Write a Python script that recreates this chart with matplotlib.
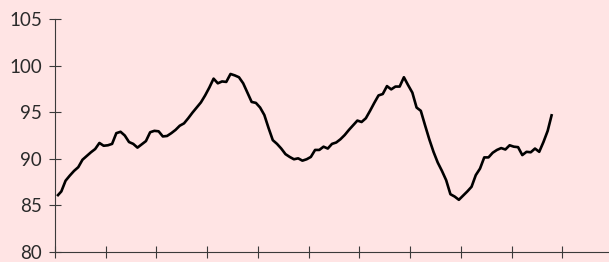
import matplotlib.pyplot as plt
import numpy as np

plt.rcParams['font.family'] = ['Lato', 'DejaVu Sans']
plt.rcParams['axes.edgecolor'] = '#3a3a3a'
plt.rcParams['xtick.color'] = '#3a3a3a'
plt.rcParams['ytick.color'] = '#3a3a3a'

bg = '#FFE4E4'

# monthly values, one tick per 12 months
values = [
  86.0, 86.5, 87.65, 88.2, 88.7, 89.1, 89.9, 90.3, 90.7, 91.05,
  91.7, 91.4, 91.45, 91.6, 92.75, 92.9, 92.5, 91.8, 91.6, 91.2,
  91.55, 91.9, 92.85, 93.0, 92.95, 92.4, 92.45, 92.75, 93.1, 93.55,
  93.8, 94.35, 94.95, 95.5, 96.05, 96.8, 97.65, 98.6, 98.1, 98.3,
  98.25, 99.1, 98.95, 98.75, 98.1, 97.1, 96.1, 96.0, 95.5, 94.7,
  93.3, 92.0, 91.6, 91.1, 90.5, 90.2, 89.95, 90.05, 89.8, 89.95,
  90.2, 90.95, 90.95, 91.3, 91.1, 91.6, 91.75, 92.1, 92.55, 93.1,
  93.6, 94.1, 93.95, 94.35, 95.15, 96.0, 96.8, 96.95, 97.8, 97.45,
  97.75, 97.75, 98.75, 97.9, 97.1, 95.5, 95.15, 93.6, 92.1, 90.75,
  89.6, 88.7, 87.7, 86.2, 85.95, 85.6, 86.05, 86.5, 87.0, 88.25,
  88.95, 90.15, 90.15, 90.65, 90.95, 91.15, 91.0, 91.45, 91.3, 91.25,
  90.4, 90.75, 90.7, 91.1, 90.75, 91.8, 93.0, 94.8,
]
months = np.arange(len(values)) + 0.5
xticks = list(range(0, 121, 12))
yticks = [80, 85, 90, 95, 100, 105]

fig = plt.figure(figsize=(6.09, 2.62), dpi=100, facecolor=bg)
ax = fig.add_axes([55/609, 10/262, 1 - 55/609, 233/262])
ax.set_facecolor(bg)

ax.plot(months, values, color='black', linewidth=1.9, solid_joinstyle='round', solid_capstyle='butt')

ax.set_xlim(0, 131)
ax.set_ylim(80, 105)
ax.set_xticks(xticks)
ax.set_xticklabels([])
ax.set_yticks(yticks)
ax.tick_params(axis='both', direction='inout', length=8.6, width=0.8, labelsize=13.5)
ax.tick_params(axis='y', pad=5, labelcolor='#2a2a2a')

for s in ['top', 'right']:
  ax.spines[s].set_visible(False)
ax.spines['left'].set_linewidth(0.8)
ax.spines['bottom'].set_linewidth(0.8)
ax.spines['left'].set_bounds(80, 105)

fig.savefig('out.png', dpi=100, facecolor=bg)
